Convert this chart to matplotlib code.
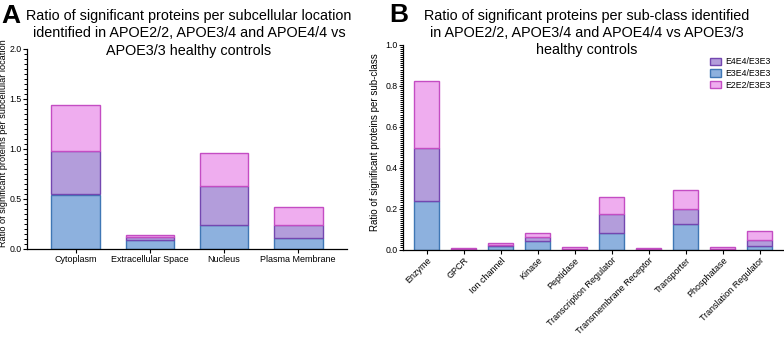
import matplotlib
matplotlib.use("Agg")
import matplotlib.pyplot as plt
from matplotlib.ticker import MultipleLocator
from matplotlib.patches import Patch

plt.rcParams['font.family'] = ['Liberation Sans', 'DejaVu Sans']

# Panel A data
loc_categories = ["Cytoplasm", "Extracellular Space", "Nucleus", "Plasma Membrane"]
loc_e3e4 = [0.545, 0.09, 0.24, 0.107]
loc_e4e4 = [0.43, 0.027, 0.39, 0.136]
loc_e2e2 = [0.465, 0.02, 0.333, 0.174]

# Panel B data
cls_categories = ["Enzyme", "GPCR", "Ion channel", "Kinase", "Peptidase",
                  "Transcription Regulator", "Transmembrane Receptor",
                  "Transporter", "Phosphatase", "Translation Regulator"]
cls_e3e4 = [0.235, 0.0, 0.016, 0.042, 0.0, 0.082, 0.0, 0.125, 0.0, 0.017]
cls_e4e4 = [0.262, 0.003, 0.008, 0.017, 0.002, 0.090, 0.003, 0.072, 0.002, 0.031]
cls_e2e2 = [0.329, 0.003, 0.006, 0.021, 0.010, 0.084, 0.003, 0.096, 0.009, 0.044]

series_names = ["E3E4/E3E3", "E4E4/E3E3", "E2E2/E3E3"]
face = {"E3E4/E3E3": "#8db1de", "E4E4/E3E3": "#b39ddb", "E2E2/E3E3": "#efadef"}
edge = {"E3E4/E3E3": "#3f77b5", "E4E4/E3E3": "#7447b0", "E2E2/E3E3": "#c44dc3"}

fig = plt.figure(figsize=(7.84, 3.4), dpi=100)
axA = fig.add_axes([27/784, 1-249/340, (347-27)/784, 200/340])
axB = fig.add_axes([403/784, 1-249.5/340, (783-403)/784, 204.5/340])

def stacked(ax, cats, vals, width):
    x = list(range(len(cats)))
    bottom = [0.0]*len(cats)
    for name, v in zip(series_names, vals):
        ax.bar(x, v, width=width, bottom=bottom, color=face[name],
               edgecolor=edge[name], linewidth=1.0, label=name)
        bottom = [b + vi for b, vi in zip(bottom, v)]
    return x

def style(ax):
    for s in ["top", "right"]:
        ax.spines[s].set_visible(False)
    ax.spines["left"].set_linewidth(0.9)
    ax.spines["bottom"].set_linewidth(0.9)
    ax.tick_params(axis='both', which='major', labelsize=6.5, length=3, width=0.8, pad=1.5)
    ax.tick_params(axis='y', which='major', labelsize=6.3, pad=1)
    ax.tick_params(axis='y', which='minor', length=2.3, width=0.7)

xa = stacked(axA, loc_categories, [loc_e3e4, loc_e4e4, loc_e2e2], 0.66)
axA.set_xlim(-0.66, 3.66)
axA.set_ylim(0, 2.0)
axA.yaxis.set_major_locator(MultipleLocator(0.5))
axA.yaxis.set_minor_locator(MultipleLocator(0.05))
axA.set_xticks(xa)
axA.set_xticklabels(loc_categories)
style(axA)
axA.set_ylabel("Ratio of significant proteins per subcellular location", fontsize=6.6)
axA.yaxis.set_label_coords((8-27)/320, 0.53)

xb = stacked(axB, cls_categories, [cls_e3e4, cls_e4e4, cls_e2e2], 0.66)
axB.set_xlim(-0.64, 9.63)
axB.set_ylim(0, 1.0)
axB.yaxis.set_major_locator(MultipleLocator(0.2))
axB.yaxis.set_minor_locator(MultipleLocator(0.01))
axB.set_xticks(xb)
axB.set_xticklabels(cls_categories, rotation=45, ha='right', rotation_mode='anchor')
style(axB)
axB.set_ylabel("Ratio of significant proteins per sub-class", fontsize=7)
axB.yaxis.set_label_coords((380-403)/380, 0.525)

handles = [Patch(facecolor=face[n], edgecolor=edge[n], linewidth=1.0, label=n)
           for n in ["E4E4/E3E3", "E3E4/E3E3", "E2E2/E3E3"]]
fig.legend(handles=handles, loc='upper left', bbox_to_anchor=(706/784, 1-53/340),
           frameon=False, fontsize=6.3, handlelength=1.2, handleheight=0.9,
           handletextpad=0.5, labelspacing=0.3, borderpad=0)

fig.text(189/784, 1-9/340,
         "Ratio of significant proteins per subcellular location\n"
         "identified in APOE2/2, APOE3/4 and APOE4/4 vs\nAPOE3/3 healthy controls",
         ha='center', va='top', fontsize=10.4, linespacing=1.3)
fig.text(587/784, 1-9/340,
         "Ratio of significant proteins per sub-class identified\n"
         "in APOE2/2, APOE3/4 and APOE4/4 vs APOE3/3\nhealthy controls",
         ha='center', va='top', fontsize=10.4, linespacing=1.28)
fig.text(1/784, 1-4/340, "A", fontsize=19, fontweight='bold', ha='left', va='top')
fig.text(389/784, 1-3/340, "B", fontsize=19, fontweight='bold', ha='left', va='top')

fig.savefig("out.png", dpi=100)
